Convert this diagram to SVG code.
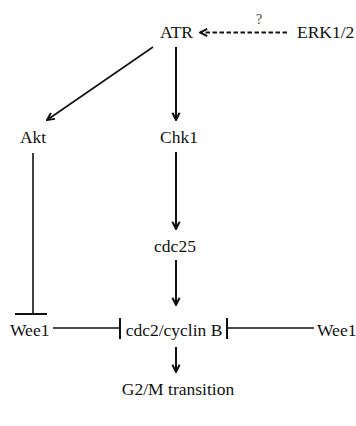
<svg xmlns="http://www.w3.org/2000/svg" width="356" height="426" viewBox="0 0 356 426">
<style>
text{font-family:"Liberation Serif","Times New Roman","DejaVu Serif",serif;font-size:17.5px;fill:#111}
.ln{stroke:#111;stroke-width:1.6;fill:none}
.th{stroke:#111;stroke-width:2;fill:none}
</style>
<defs>
<marker id="arr" viewBox="0 0 10 10" refX="9" refY="5" markerWidth="9" markerHeight="10" markerUnits="userSpaceOnUse" orient="auto">
<path d="M1,1 L9,5 L1,9" stroke="#111" stroke-width="2.2" fill="none"/>
</marker>
</defs>
<rect width="356" height="426" fill="#fff"/>
<g id="connectors">
<line class="th" x1="287" y1="32.5" x2="200" y2="32.5" stroke-dasharray="4.5,2.5" stroke-width="2.4" marker-end="url(#arr)"/>
<text x="259" y="24" text-anchor="middle" style="font-size:14px;fill:#444">?</text>
<line class="ln" x1="153" y1="47" x2="47" y2="120" marker-end="url(#arr)"/>
<line class="th" x1="176" y1="47" x2="176" y2="120" marker-end="url(#arr)"/>
<line class="th" x1="176" y1="152" x2="176" y2="229" marker-end="url(#arr)"/>
<line class="th" x1="176" y1="260" x2="176" y2="305" marker-end="url(#arr)"/>
<line class="ln" x1="33" y1="153" x2="33" y2="314"/>
<line class="th" x1="15" y1="314" x2="47" y2="314"/>
<line class="ln" x1="53" y1="328" x2="120" y2="328"/>
<line class="th" x1="120" y1="318" x2="120" y2="339"/>
<line class="ln" x1="227" y1="328" x2="314" y2="328"/>
<line class="th" x1="227" y1="318" x2="227" y2="339"/>
<line class="th" x1="176" y1="347" x2="176" y2="372" marker-end="url(#arr)"/>
</g>
<g id="ATR"><text x="176.5" y="38" text-anchor="middle">ATR</text></g>
<g id="ERK"><text x="297" y="38">ERK1/2</text></g>
<g id="Akt"><text x="33" y="143" text-anchor="middle">Akt</text></g>
<g id="Chk1"><text x="179" y="143" text-anchor="middle">Chk1</text></g>
<g id="cdc25"><text x="175" y="252" text-anchor="middle">cdc25</text></g>
<g id="Wee1-left"><text x="10" y="336">Wee1</text></g>
<g id="cdc2"><text x="174" y="336" text-anchor="middle">cdc2/cyclin B</text></g>
<g id="Wee1-right"><text x="317" y="336">Wee1</text></g>
<g id="G2M"><text x="178" y="395" text-anchor="middle">G2/M transition</text></g>
</svg>
